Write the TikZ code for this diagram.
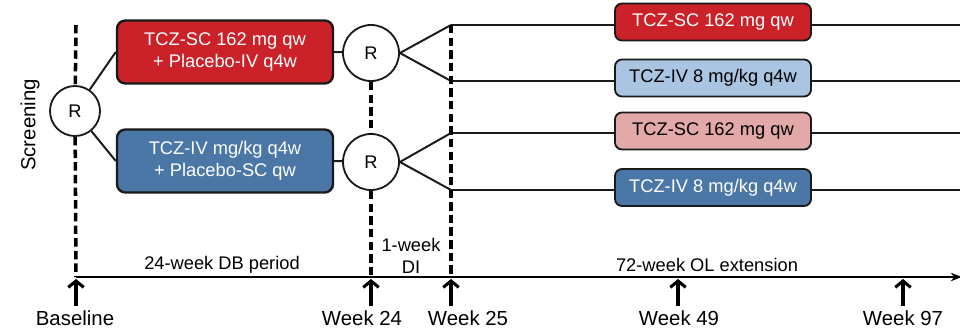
\documentclass[tikz,border=0pt]{standalone}
\usepackage{fontspec}
\setmainfont{Liberation Sans}
\usetikzlibrary{arrows.meta,positioning,calc}

\definecolor{scred}{HTML}{CB2229}
\definecolor{ivblue}{HTML}{4A77A6}
\definecolor{ivlight}{HTML}{A9C5E2}
\definecolor{scpink}{HTML}{E3A8A8}
\definecolor{edge}{HTML}{1A1A1A}

\begin{document}
\begin{tikzpicture}[x=0.025cm,y=-0.025cm,
    txt/.style={font=\fontsize{13}{15.5}\selectfont},
    bigtxt/.style={font=\fontsize{14.5}{17}\selectfont},
    rand/.style={circle,draw=edge,line width=1.3pt,fill=white,inner sep=0pt,txt},
    dbbox/.style={draw=edge,line width=1.7pt,rounded corners=6pt,minimum width=5.4cm,
        minimum height=1.575cm,align=center,txt},
    olbox/.style={draw=edge,line width=1.3pt,rounded corners=5pt,minimum width=4.9cm,
        minimum height=0.925cm,txt},
    link/.style={draw=edge,line width=1.4pt},
    dashline/.style={line width=2.5pt,dash pattern=on 6pt off 3pt},
    tickarrow/.style={line width=2.2pt,-{Straight Barb[length=4.5pt,width=11pt]}}]

  \useasboundingbox (0,0) rectangle (960,329);

  % screening and first randomisation
  \node[bigtxt,rotate=90] (scr) at (30,125) {Screening};
  \node[rand,minimum size=1.25cm] (r0) at (75,111) {R};

  % double-blind arms
  \node[dbbox,fill=scred,text=white] (b1) at (225,52) {TCZ-SC 162 mg qw\\+ Placebo-IV q4w};
  \node[dbbox,fill=ivblue,text=white] (b2) at (225,161) {TCZ-IV mg/kg q4w\\+ Placebo-SC qw};

  \draw[link] (r0) -- (b1.west);
  \draw[link] (r0) -- (b2.west);

  % re-randomisation at week 24
  \node[rand,minimum size=1.4cm] (r1) at (371,53) {R};
  \node[rand,minimum size=1.4cm] (r2) at (371,162) {R};

  \draw[link] (b1.east) -- (r1);
  \draw[link] (b2.east) -- (r2);

  \coordinate (c1) at (451,25);
  \coordinate (c2) at (451,81);
  \coordinate (c3) at (451,133);
  \coordinate (c4) at (451,190);

  \draw[link] (r1.east) -- (c1);
  \draw[link] (r1.east) -- (c2);
  \draw[link] (r2.east) -- (c3);
  \draw[link] (r2.east) -- (c4);

  % open-label arms
  \node[olbox,fill=scred,text=white] (o1) at (713,22) {TCZ-SC 162 mg qw};
  \node[olbox,fill=ivlight] (o2) at (713,78) {TCZ-IV 8 mg/kg q4w};
  \node[olbox,fill=scpink] (o3) at (713,131) {TCZ-SC 162 mg qw};
  \node[olbox,fill=ivblue,text=white] (o4) at (713,187.5) {TCZ-IV 8 mg/kg q4w};

  \coordinate (e1) at (962,25);
  \coordinate (e2) at (962,81);
  \coordinate (e3) at (962,133);
  \coordinate (e4) at (962,190);

  \draw[link] (c1) -- (c1 -| o1.west);
  \draw[link] (c2) -- (c2 -| o2.west);
  \draw[link] (c3) -- (c3 -| o3.west);
  \draw[link] (c4) -- (c4 -| o4.west);
  \draw[link] (c1 -| o1.east) -- (e1);
  \draw[link] (c2 -| o2.east) -- (e2);
  \draw[link] (c3 -| o3.east) -- (e3);
  \draw[link] (c4 -| o4.east) -- (e4);

  % time axis
  \coordinate (a0) at (76,277);
  \coordinate (a1) at (371,277);
  \coordinate (a2) at (451,277);
  \coordinate (a3) at (678,277);
  \coordinate (a4) at (903,277);
  \coordinate (aend) at (962,277);

  \draw[line width=2.1pt,-{Stealth[length=8pt]}] (a0) -- (aend);

  % period boundaries
  \coordinate (top0) at (76,25);
  \draw[dashline] (top0) -- (r0);
  \draw[dashline] (r0) -- (a0);
  \draw[dashline] (r1) -- (r2);
  \draw[dashline] (r2) -- (a1);
  \draw[dashline] (c1) -- (a2);

  \node[txt] (db) at (222,265) {24-week DB period};
  \node[txt,align=center] (di) at (411,256) {1-week\\DI};
  \node[txt] (ol) at (707,265) {72-week OL extension};

  % visits
  \node[bigtxt] (w0) at (75,318) {Baseline};
  \node[bigtxt] (w1) at (362,318) {Week 24};
  \node[bigtxt] (w2) at (468,318) {Week 25};
  \node[bigtxt] (w3) at (679,318) {Week 49};
  \node[bigtxt] (w4) at (903,318) {Week 97};

  \draw[tickarrow] ($(a0)+(0,29)$) -- ($(a0)+(0,2)$);
  \draw[tickarrow] ($(a1)+(0,29)$) -- ($(a1)+(0,2)$);
  \draw[tickarrow] ($(a2)+(0,29)$) -- ($(a2)+(0,2)$);
  \draw[tickarrow] ($(a3)+(0,29)$) -- ($(a3)+(0,2)$);
  \draw[tickarrow] ($(a4)+(0,29)$) -- ($(a4)+(0,2)$);

\end{tikzpicture}
\end{document}
